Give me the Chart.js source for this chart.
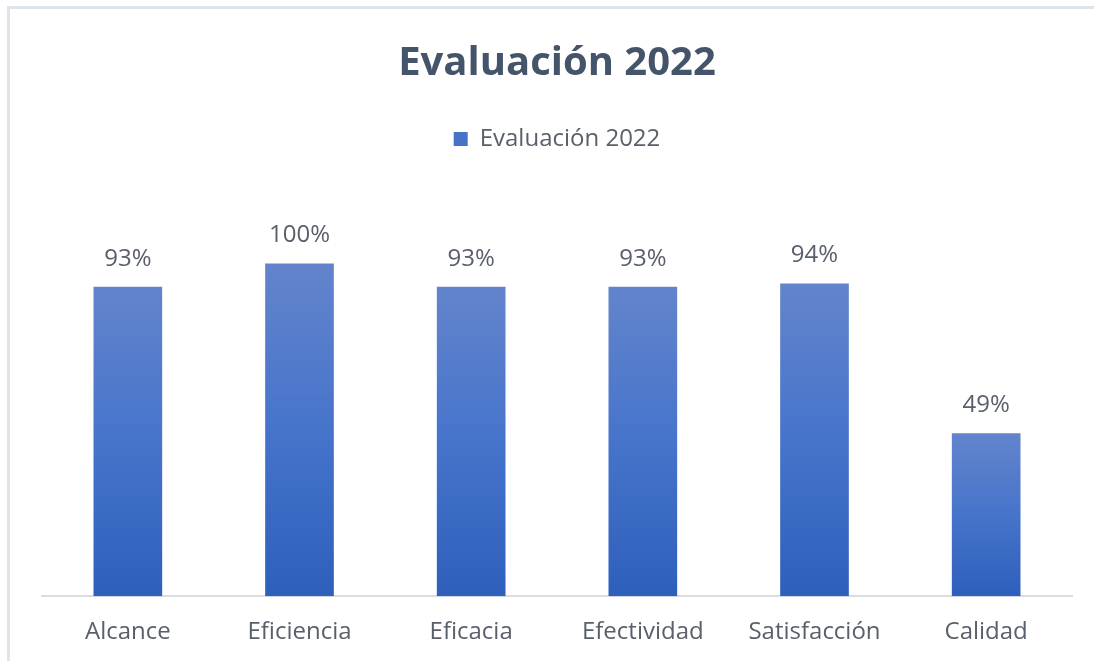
<!DOCTYPE html>
<html lang="es">
<head>
  <meta charset="UTF-8">
  <title>Evaluación 2022</title>
  <script src="https://cdn.jsdelivr.net/npm/chart.js"></script>
  <style>
    html, body {
      margin: 0;
      background: #fff;
      overflow: hidden;
    }
    canvas {
      display: block;
    }
  </style>
</head>
<body>
  <canvas id="evalChart" width="1094" height="661"></canvas>

  <script>
    const categories = ['Alcance', 'Eficiencia', 'Eficacia', 'Efectividad', 'Satisfacción', 'Calidad'];
    const scores = [0.93, 1.00, 0.93, 0.93, 0.94, 0.49];
    const seriesName = 'Evaluación 2022';

    const textColor = '#595f6b';
    const fontFamily = "'Open Sans', 'Noto Sans', sans-serif";

    // vertical gradient per bar, light at the top and darker at the base
    function barFill(ctx) {
      const chart = ctx.chart;
      const area = chart.chartArea;
      if (!area || !ctx.parsed) return '#4472c4';
      const y = chart.scales.y;
      const top = y.getPixelForValue(ctx.parsed.y);
      const bottom = y.getPixelForValue(0);
      const g = chart.ctx.createLinearGradient(0, top, 0, bottom);
      g.addColorStop(0, '#6384cc');
      g.addColorStop(0.5, '#4674cb');
      g.addColorStop(1, '#2e5fbb');
      return g;
    }

    // light frame along the top and left edges
    const frame = {
      id: 'frame',
      beforeDraw(chart) {
        const ctx = chart.ctx;
        ctx.save();
        ctx.fillStyle = '#dfe3ea';
        ctx.fillRect(7, 6, chart.width - 7, 3);
        ctx.fillRect(7, 6, 3, chart.height - 6);
        ctx.restore();
      }
    };

    // percentage labels above each bar
    const valueLabels = {
      id: 'valueLabels',
      afterDatasetsDraw(chart) {
        const ctx = chart.ctx;
        const meta = chart.getDatasetMeta(0);
        ctx.save();
        ctx.font = '24px ' + fontFamily;
        ctx.fillStyle = textColor;
        ctx.textAlign = 'center';
        ctx.textBaseline = 'middle';
        meta.data.forEach((bar, i) => {
          const v = chart.data.datasets[0].data[i];
          ctx.fillText(Math.round(v * 100) + '%', bar.x, bar.y - 28);
        });
        ctx.restore();
      }
    };

    // extra room between the legend and the plot
    const legendGap = {
      id: 'legendGap',
      beforeInit(chart) {
        const fit = chart.legend.fit;
        chart.legend.fit = function () {
          fit.bind(chart.legend)();
          this.height += 36;
        };
      }
    };

    new Chart(document.getElementById('evalChart'), {
      type: 'bar',
      data: {
        labels: categories,
        datasets: [{
          label: seriesName,
          data: scores,
          backgroundColor: barFill,
          borderWidth: 0,
          barPercentage: 0.4,
          categoryPercentage: 1.0
        }]
      },
      options: {
        responsive: false,
        animation: false,
        layout: {
          padding: { left: 42, right: 22, top: 0, bottom: 0 }
        },
        plugins: {
          title: {
            display: true,
            text: seriesName,
            color: '#44546a',
            font: { family: fontFamily, size: 40, weight: 'bold' },
            padding: { top: 40, bottom: 29 }
          },
          legend: {
            display: true,
            position: 'top',
            labels: {
              color: textColor,
              font: { family: fontFamily, size: 24 },
              boxWidth: 14,
              boxHeight: 14,
              padding: 10,
              generateLabels(chart) {
                return [{
                  text: seriesName,
                  fillStyle: '#4672c8',
                  strokeStyle: '#4672c8',
                  lineWidth: 0,
                  fontColor: textColor,
                  datasetIndex: 0,
                  hidden: false
                }];
              }
            }
          },
          tooltip: { enabled: false }
        },
        scales: {
          x: {
            grid: { display: false },
            border: { display: true, color: '#d9dde3', width: 2 },
            ticks: {
              color: textColor,
              font: { family: fontFamily, size: 24 },
              padding: 14,
              maxRotation: 0
            }
          },
          y: {
            display: false,
            min: 0,
            max: 1.2
          }
        }
      },
      plugins: [frame, valueLabels, legendGap]
    });
  </script>
</body>
</html>
